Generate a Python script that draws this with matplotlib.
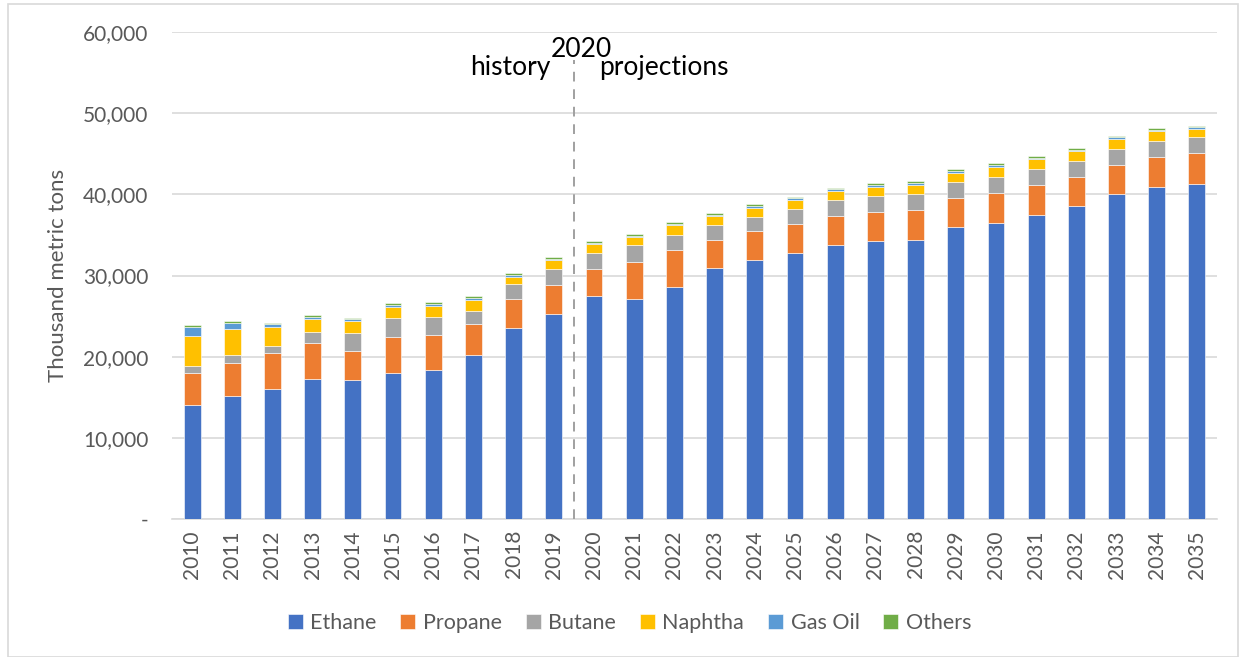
import matplotlib
matplotlib.use("Agg")
import matplotlib.pyplot as plt
import numpy as np
from matplotlib.patches import Rectangle
from matplotlib.ticker import FuncFormatter

years = [str(y) for y in range(2010, 2036)]
ethane = [14100, 15170, 16040, 17240, 17160, 17940, 18390, 20250, 23520, 25250,
          27530, 27120, 28640, 30910, 31890, 32760, 33700, 34200, 34350, 35980,
          36520, 37500, 38530, 40000, 40900, 41310]
propane = [3920, 4090, 4380, 4500, 3550, 4460, 4260, 3760, 3550, 3550,
           3250, 4490, 4490, 3450, 3540, 3540, 3670, 3620, 3680, 3570,
           3690, 3650, 3640, 3610, 3690, 3770]
butane = [870, 910, 950, 1360, 2190, 2310, 2190, 1610, 1900, 2030,
          1940, 2090, 1890, 1810, 1770, 1850, 1890, 1930, 1970, 1930,
          1960, 1920, 1930, 1920, 1930, 1930]
naphtha = [3710, 3260, 2310, 1570, 1480, 1450, 1400, 1410, 860, 1070,
           1110, 990, 1150, 1110, 1110, 1150, 1190, 1200, 1190, 1190,
           1230, 1230, 1190, 1270, 1230, 1060]
gas_oil = [1080, 750, 290, 250, 210, 210, 210, 200, 210, 170,
           200, 210, 210, 210, 210, 210, 210, 200, 200, 200,
           210, 210, 200, 210, 200, 210]
others = [210, 200, 210, 210, 210, 240, 330, 210, 210, 200,
          170, 200, 200, 210, 250, 200, 160, 210, 210, 250,
          200, 200, 250, 160, 170, 200]

series_names = ["Ethane", "Propane", "Butane", "Naphtha", "Gas Oil", "Others"]
series_vals = [ethane, propane, butane, naphtha, gas_oil, others]
colors = ["#4472C4", "#ED7D31", "#A5A5A5", "#FFC000", "#5B9BD5", "#70AD47"]

plt.rcParams['font.family'] = ['Lato', 'DejaVu Sans']
grey_txt = "#595959"

fig = plt.figure(figsize=(12.44, 6.57), dpi=100)
ax = fig.add_axes([172/1244, 1-519/657, (1217-172)/1244, (519-32)/657])

x = np.arange(len(years))
bottom = np.zeros(len(years))
for name, vals, c in zip(series_names, series_vals, colors):
    v = np.array(vals, dtype=float)
    ax.bar(x, v, width=0.42, bottom=bottom, color=c, label=name,
           edgecolor="white", linewidth=0.4, zorder=3)
    bottom += v

ax.set_xlim(-0.5, len(years) - 0.5)
ax.set_ylim(0, 60000)
ax.set_yticks(np.arange(0, 60001, 10000))
ax.yaxis.set_major_formatter(FuncFormatter(lambda v, p: "-" if v == 0 else f"{int(v):,}"))
ax.set_xticks(x)
ax.set_xticklabels(years, rotation=90)
ax.grid(axis="y", color="#d9d9d9", linewidth=1.2, zorder=0)
for s in ["top", "right", "left"]:
    ax.spines[s].set_visible(False)
ax.spines["bottom"].set_color("#d9d9d9")
ax.spines["bottom"].set_linewidth(1.2)
ax.tick_params(axis="both", length=0, labelsize=15, colors=grey_txt, pad=8)
ax.tick_params(axis="y", pad=17)
ax.set_ylabel("Thousand metric tons", fontsize=16, color=grey_txt, labelpad=11)

# history / projections divider
ax.vlines(9.5, 0, 56500, colors="#a0a0a0", linestyles=(0, (5, 4)), linewidth=1.4, zorder=4)
ax.text(9.68, 56300, "2020", ha="center", va="bottom", fontsize=19, color="black")
ax.text(8.92, 54700, "history", ha="right", va="baseline", fontsize=19, color="black")
ax.text(10.12, 54700, "projections", ha="left", va="baseline", fontsize=19, color="black")

leg = fig.legend(loc="center", bbox_to_anchor=(0.506, 1-623/657), ncol=6, frameon=False,
                 fontsize=15.5, handlelength=0.7, handleheight=0.7, handletextpad=0.35,
                 columnspacing=1.1)
for t in leg.get_texts():
    t.set_color(grey_txt)

fig.patches.append(Rectangle((8/1244, 0.0), (1238-8)/1244, 1-4/657, transform=fig.transFigure,
                             fill=False, edgecolor="#d9d9d9", linewidth=1.2))

fig.savefig("out.png", dpi=100)
